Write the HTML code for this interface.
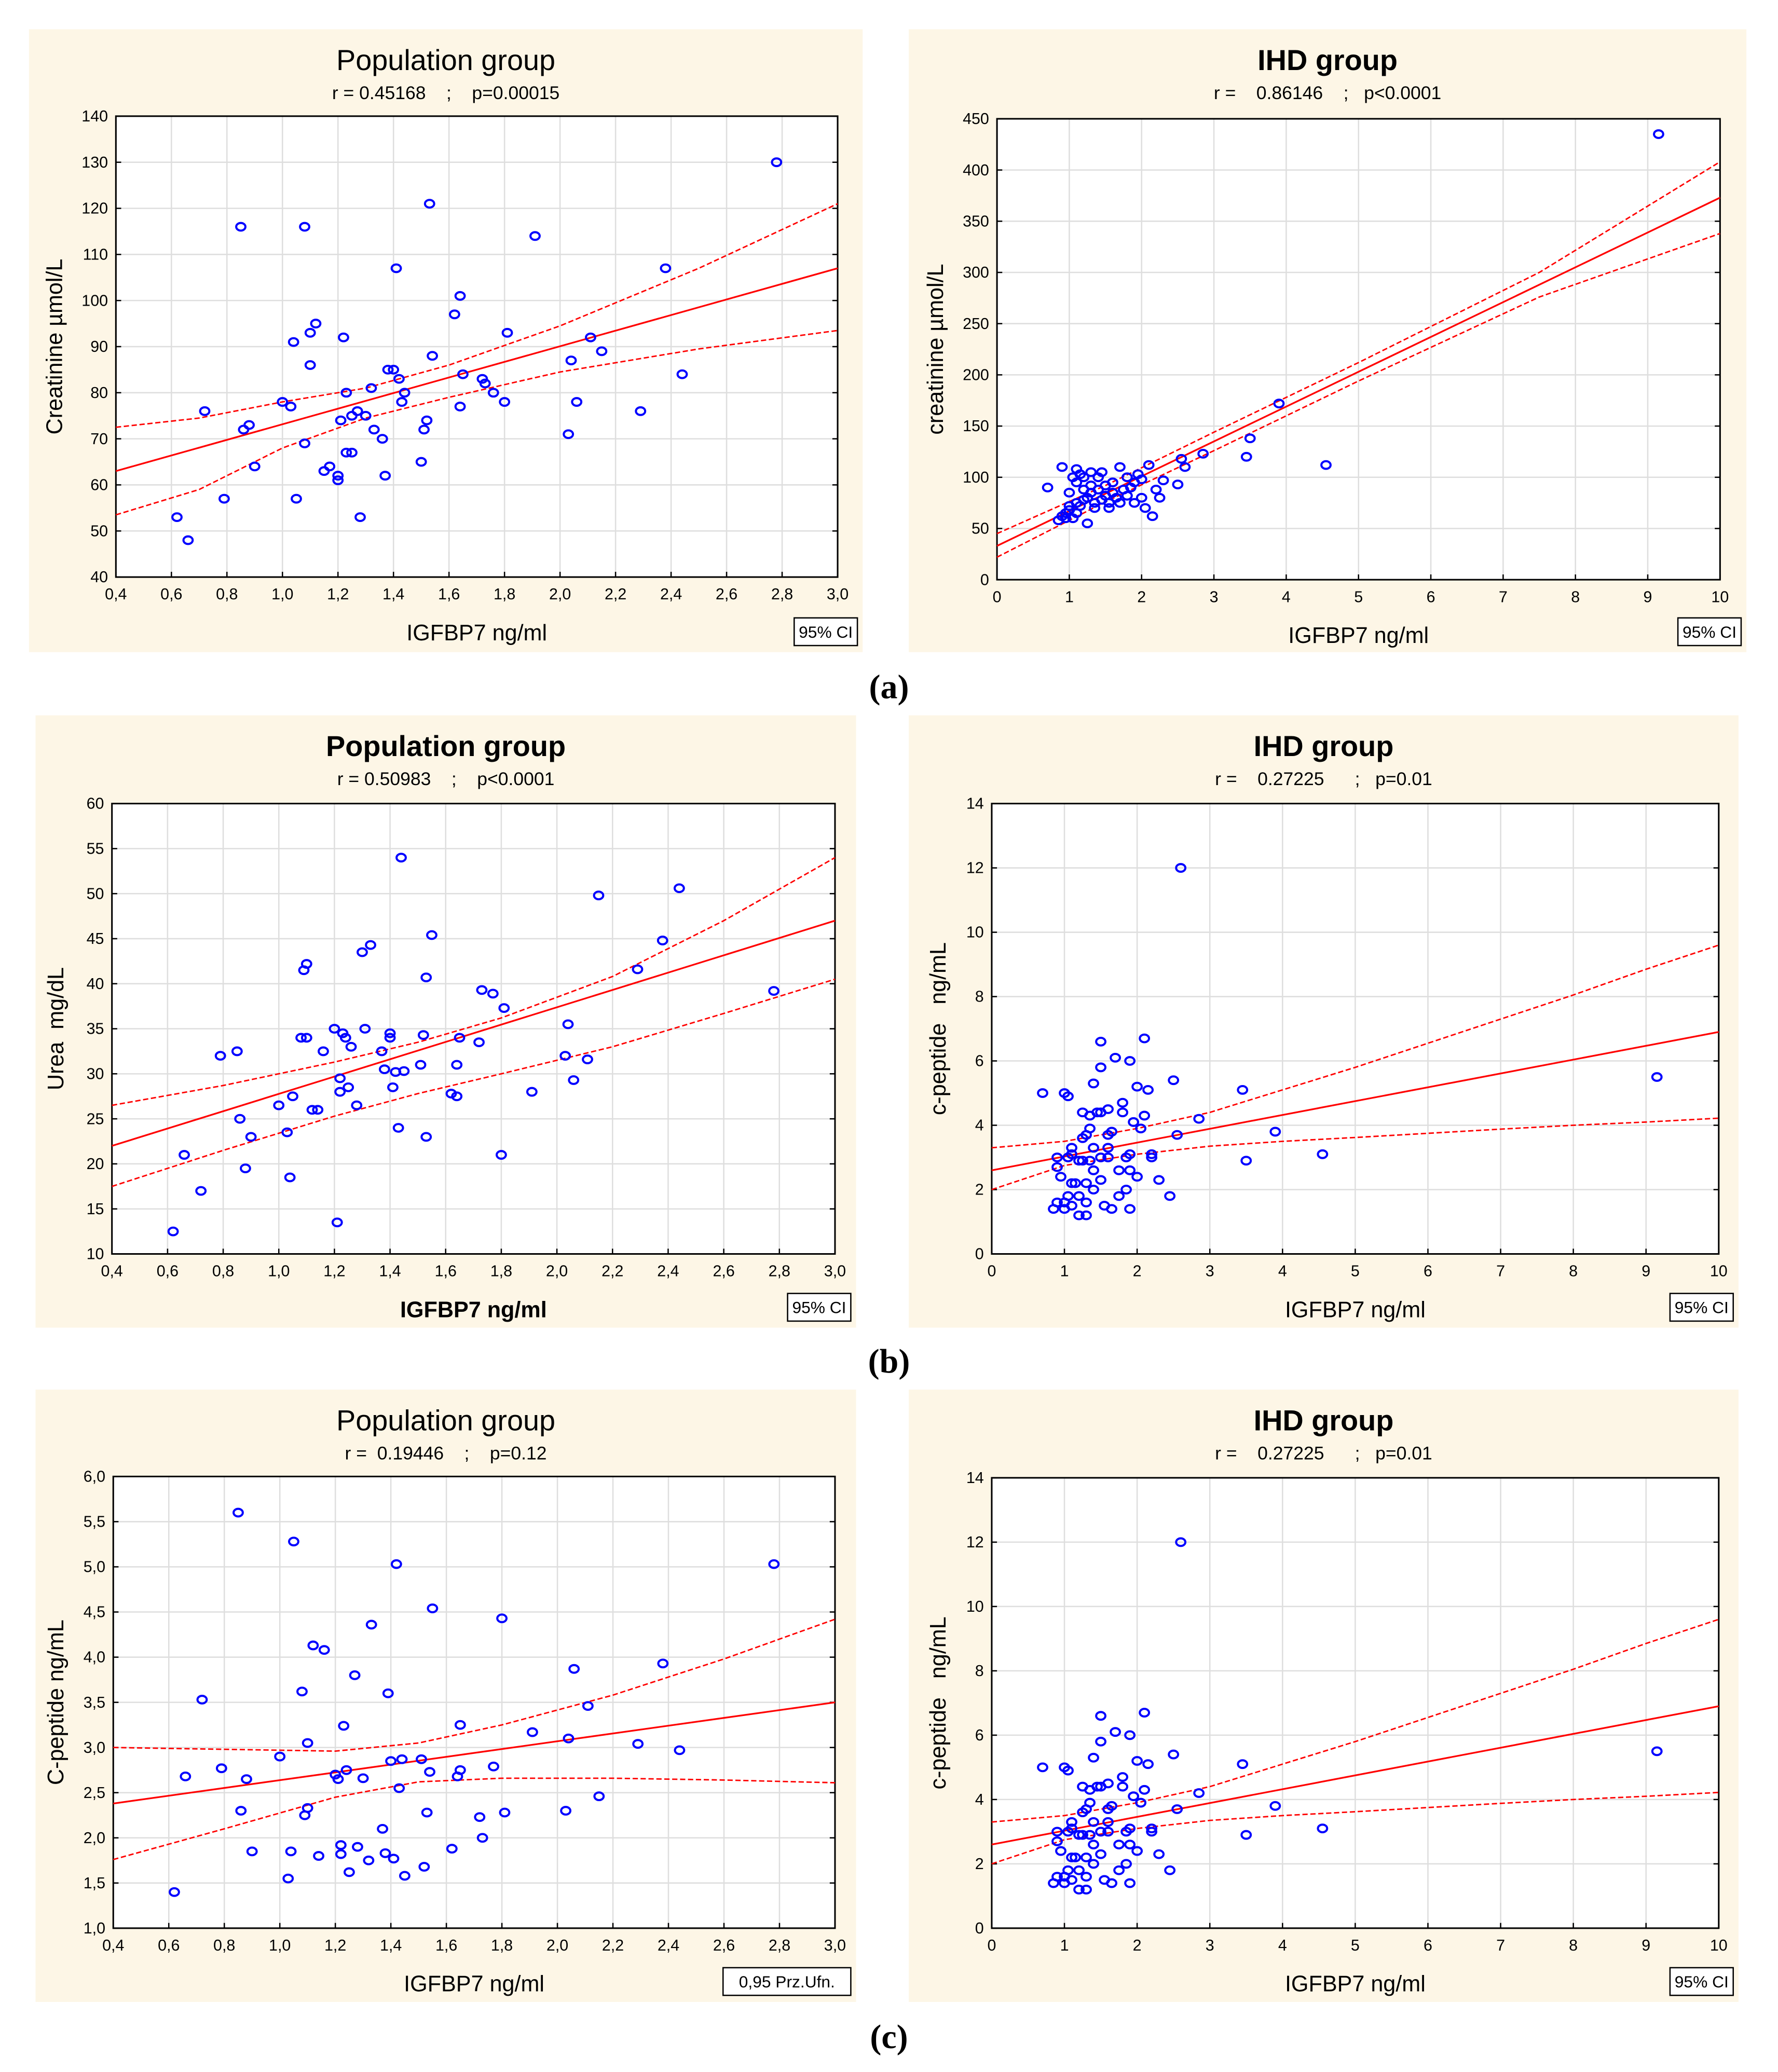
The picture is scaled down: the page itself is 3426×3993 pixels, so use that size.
<!DOCTYPE html>
<html><head><meta charset="utf-8"><style>
html,body{margin:0;padding:0;background:#fff;}
svg{display:block;}
text{font-family:"Liberation Sans",sans-serif;fill:#000;white-space:pre;}
</style></head><body>
<svg id="fig" width="3426" height="3993" viewBox="0 0 1350 1573" xmlns="http://www.w3.org/2000/svg"></svg>
<script>
// ---- chart data ----
const aLeftX=[0.62,0.66,0.72,0.79,0.85,0.86,0.88,0.9,1.0,1.03,1.04,1.05,1.08,1.08,1.1,1.1,1.12,1.15,1.17,1.2,1.2,1.21,1.22,1.23,1.23,1.25,1.25,1.27,1.28,1.3,1.32,1.33,1.36,1.37,1.38,1.4,1.41,1.42,1.43,1.44,1.5,1.51,1.52,1.53,1.54,1.62,1.64,1.64,1.65,1.72,1.73,1.76,1.8,1.81,1.91,2.03,2.04,2.06,2.11,2.15,2.29,2.38,2.44,2.78];
const aLeftY=[53,48,76,57,116,72,73,64,78,77,91,57,116,69,86,93,95,63,64,61,62,74,92,67,80,75,67,76,53,75,81,72,70,62,85,85,107,83,78,80,65,72,74,121,88,97,101,77,84,83,82,80,78,93,114,71,87,78,92,89,76,107,84,130];
const aLeftFit=[63,107];
const aLeftCiX=[0.4,0.7,1.0,1.3,1.6,2.0,2.5,3.0];
const aLeftCiUp=[72.5,74.5,78,81,86,94.5,107,121];
const aLeftCiLo=[53.5,59,68,74.5,79,84.5,89.5,93.5];

const aRightX=[0.7,0.85,0.9,0.9,0.95,1.0,1.0,1.05,1.05,1.1,1.1,1.1,1.15,1.15,1.2,1.2,1.25,1.25,1.3,1.3,1.3,1.35,1.35,1.4,1.4,1.45,1.45,1.5,1.5,1.55,1.55,1.6,1.6,1.65,1.7,1.7,1.75,1.8,1.8,1.85,1.9,1.9,1.95,2.0,2.0,2.05,2.1,2.15,2.2,2.25,2.3,2.5,2.55,2.6,2.85,3.45,3.5,3.9,4.55,9.15,1.0,1.1,1.2,0.95];
const aRightY=[90,58,62,110,65,68,85,60,100,108,95,75,72,103,88,100,55,80,105,85,92,75,70,88,100,78,105,82,92,75,70,85,95,80,110,75,88,100,82,90,95,75,103,98,80,70,112,62,88,80,97,93,118,110,123,120,138,172,112,435,72,65,78,60];
const aRightFit=[33,373];
const aRightCiX=[0,1.5,3,5,7.5,10];
const aRightCiUp=[45,92,144,212,300,408];
const aRightCiLo=[22,76,126,194,276,338];

const bLeftX=[0.62,0.66,0.72,0.79,0.85,0.86,0.88,0.9,1.0,1.03,1.04,1.05,1.08,1.09,1.1,1.1,1.12,1.14,1.16,1.2,1.21,1.22,1.22,1.23,1.24,1.25,1.26,1.28,1.3,1.31,1.33,1.37,1.38,1.4,1.4,1.41,1.42,1.43,1.44,1.45,1.51,1.52,1.53,1.53,1.55,1.62,1.64,1.64,1.65,1.72,1.73,1.77,1.8,1.81,1.91,2.03,2.04,2.06,2.11,2.15,2.29,2.38,2.44,2.78];
const bLeftY=[12.5,21,17,32,32.5,25,19.5,23,26.5,23.5,18.5,27.5,34,41.5,42.2,34,26,26,32.5,35,13.5,29.5,28,34.5,34,28.5,33,26.5,43.5,35,44.3,32.5,30.5,34.5,34,28.5,30.2,24,54,30.3,31,34.3,23,40.7,45.4,27.8,27.5,31,34,33.5,39.3,38.9,21,37.3,28,32,35.5,29.3,31.6,49.8,41.6,44.8,50.6,39.2];
const bLeftFit=[22,47];
const bLeftCiX=[0.4,0.8,1.2,1.5,1.8,2.2,2.6,3.0];
const bLeftCiUp=[26.5,28.7,31.3,33.5,36.2,40.8,47,54];
const bLeftCiLo=[17.5,21.5,25.3,27.8,30,33,36.7,40.5];

const cpepX=[0.7,0.9,0.9,0.85,0.9,0.95,1.0,1.0,1.0,1.05,1.05,1.05,1.1,1.1,1.1,1.1,1.15,1.2,1.2,1.2,1.25,1.25,1.25,1.3,1.3,1.3,1.3,1.35,1.35,1.35,1.4,1.4,1.4,1.4,1.45,1.5,1.5,1.5,1.5,1.5,1.55,1.6,1.6,1.6,1.6,1.65,1.65,1.7,1.75,1.75,1.8,1.8,1.85,1.85,1.9,1.9,1.9,1.9,1.95,2.0,2.0,2.05,2.1,2.1,2.15,2.2,2.2,2.3,2.45,2.5,2.55,2.6,2.85,3.45,3.5,3.9,4.55,9.15];
const cpepY=[5.0,3.0,2.7,1.4,1.6,2.4,5.0,1.4,1.6,4.9,3.0,1.8,3.1,3.3,2.2,1.5,2.2,2.9,1.8,1.2,4.4,3.6,2.9,3.7,2.2,1.6,1.2,3.9,2.9,4.3,5.3,3.3,2.6,2.0,4.4,6.6,5.8,4.4,3.0,2.3,1.5,3.7,3.3,3.0,4.5,3.8,1.4,6.1,2.6,1.8,4.7,4.4,2.0,3.0,6.0,3.1,2.6,1.4,4.1,5.2,2.4,3.9,6.7,4.3,5.1,3.1,3.0,2.3,1.8,5.4,3.7,12.0,4.2,5.1,2.9,3.8,3.1,5.5];
const cpepFit=[2.6,6.9];
const cpepCiX=[0,1,2,3,4,5,6,7,8,9,10];
const cpepCiUp=[3.3,3.5,3.9,4.4,5.1,5.8,6.55,7.3,8.05,8.85,9.6];
const cpepCiLo=[2.0,2.75,3.1,3.35,3.5,3.62,3.75,3.88,4.0,4.1,4.22];

const cLeftX=[0.62,0.66,0.72,0.79,0.85,0.86,0.88,0.9,1.0,1.03,1.04,1.05,1.08,1.09,1.1,1.1,1.12,1.14,1.16,1.2,1.21,1.22,1.22,1.23,1.24,1.25,1.27,1.28,1.3,1.32,1.33,1.37,1.38,1.39,1.4,1.41,1.42,1.43,1.44,1.45,1.51,1.52,1.53,1.54,1.55,1.62,1.64,1.65,1.65,1.72,1.73,1.77,1.8,1.81,1.91,2.03,2.04,2.06,2.11,2.15,2.29,2.38,2.44,2.78];
const cLeftY=[1.4,2.68,3.53,2.77,5.6,2.3,2.65,1.85,2.9,1.55,1.85,5.28,3.62,2.25,3.05,2.33,4.13,1.8,4.08,2.7,2.65,1.92,1.82,3.24,2.75,1.62,3.8,1.9,2.66,1.75,4.36,2.1,1.83,3.6,2.85,1.77,5.03,2.55,2.87,1.58,2.87,1.68,2.28,2.73,4.54,1.88,2.68,3.25,2.75,2.23,2.0,2.79,4.43,2.28,3.17,2.3,3.1,3.87,3.46,2.46,3.04,3.93,2.97,5.03];
const cLeftFit=[2.38,3.5];
const cLeftCiX=[0.4,0.8,1.2,1.5,1.8,2.2,2.6,3.0];
const cLeftCiUp=[3.0,2.98,2.96,3.05,3.25,3.58,3.98,4.42];
const cLeftCiLo=[1.76,2.1,2.45,2.62,2.66,2.66,2.64,2.61];

const xTicksPop=[0.4,0.6,0.8,1.0,1.2,1.4,1.6,1.8,2.0,2.2,2.4,2.6,2.8,3.0];
const xTickLabelsPop=["0,4","0,6","0,8","1,0","1,2","1,4","1,6","1,8","2,0","2,2","2,4","2,6","2,8","3,0"];
const xTicksIhd=[0,1,2,3,4,5,6,7,8,9,10];
const yTicksA=[40,50,60,70,80,90,100,110,120,130,140];
const yTicksAR=[0,50,100,150,200,250,300,350,400,450];
const yTicksB=[10,15,20,25,30,35,40,45,50,55,60];
const yTicksCp=[0,2,4,6,8,10,12,14];
const yTicksC=[1.0,1.5,2.0,2.5,3.0,3.5,4.0,4.5,5.0,5.5,6.0];
const yTickLabelsC=["1,0","1,5","2,0","2,5","3,0","3,5","4,0","4,5","5,0","5,5","6,0"];

const NS="http://www.w3.org/2000/svg";
const fig=document.getElementById('fig');
function mk(tag,attrs,parent){const e=document.createElementNS(NS,tag);for(const k in attrs)e.setAttribute(k,attrs[k]);(parent||fig).appendChild(e);return e;}

function chart(c){
  const g=mk('g',{});
  
  
  const bg=mk('rect',{x:c.bg[0],y:c.bg[1],width:c.bg[2],height:c.bg[3],fill:'#fdf6e6'},g);
  
  
  const [L,T,R,B]=c.plot;
  const sx=v=>L+(v-c.xr[0])/(c.xr[1]-c.xr[0])*(R-L);
  const sy=v=>B-(v-c.yr[0])/(c.yr[1]-c.yr[0])*(B-T);
  mk('rect',{x:L,y:T,width:R-L,height:B-T,fill:'#fff'},g);
  c.xt.forEach((v,i)=>{
    mk('line',{x1:sx(v),x2:sx(v),y1:T,y2:B,stroke:'#dedede','stroke-width':1},g);
    mk('line',{x1:sx(v),x2:sx(v),y1:B,y2:B-4,stroke:'#000','stroke-width':1},g);
    const t=mk('text',{x:sx(v),y:B+17,'text-anchor':'middle','font-size':12},g);
    t.textContent=c.xl[i];
    
    
  });
  c.yt.forEach((v,i)=>{
    mk('line',{x1:L,x2:R,y1:sy(v),y2:sy(v),stroke:'#dedede','stroke-width':1},g);
    mk('line',{x1:L,x2:L+4,y1:sy(v),y2:sy(v),stroke:'#000','stroke-width':1},g);
    mk('line',{x1:R,x2:R-4,y1:sy(v),y2:sy(v),stroke:'#000','stroke-width':1},g);
    const t=mk('text',{x:L-6,y:sy(v)+4,'text-anchor':'end','font-size':12},g);
    t.textContent=c.yl[i];
    
    
  });
  mk('rect',{x:L,y:T,width:R-L,height:B-T,fill:'none',stroke:'#000','stroke-width':1.2},g);
  const ci=(ys,nm)=>{
    const p=mk('polyline',{points:c.cix.map((x,i)=>sx(x)+','+sy(ys[i])).join(' '),fill:'none',stroke:'#f00','stroke-width':1.1,'stroke-dasharray':'4,2'},g);
    
    
  };
  ci(c.ciu,'ci-upper');ci(c.cil,'ci-lower');
  const fl=mk('line',{x1:sx(c.xr[0]),y1:sy(c.fit[0]),x2:sx(c.xr[1]),y2:sy(c.fit[1]),stroke:'#f00','stroke-width':1.3},g);
  
  
  c.px.forEach((x,i)=>{
    const e=mk('ellipse',{cx:sx(x),cy:sy(c.py[i]),rx:3.5,ry:2.9,fill:'none',stroke:'#0000ff','stroke-width':1.6},g);
    
    
  });
  const mid=(c.bg[0]*2+c.bg[2])/2;
  const tt=mk('text',{x:mid,y:c.bg[1]+31,'text-anchor':'middle','font-size':22,'font-weight':c.titleBold?'bold':'normal'},g);
  tt.textContent=c.title;
  
  
  const st=mk('text',{x:mid,y:c.bg[1]+53,'text-anchor':'middle','font-size':14},g);
  st.textContent=c.sub;
  
  
  const xl=mk('text',{x:(L+R)/2,y:B+48,'text-anchor':'middle','font-size':17,'font-weight':c.xBold?'bold':'normal'},g);
  xl.textContent=c.xlabel;
  
  
  const yl=mk('text',{x:0,y:0,'text-anchor':'middle','font-size':17,transform:`translate(${c.ylx},${(T+B)/2}) rotate(-90)`},g);
  yl.textContent=c.ylabel;
  
  
  const bw=c.ci.length*7+6;
  const bx=c.bg[0]+c.bg[2]-bw-4, by=c.bg[1]+c.bg[3]-26;
  const lb=mk('rect',{x:bx,y:by,width:bw,height:21,fill:'#fff',stroke:'#000','stroke-width':1},g);
  
  
  const lt=mk('text',{x:bx+bw/2,y:by+15,'text-anchor':'middle','font-size':12.5},g);
  lt.textContent=c.ci;
  
  
}
const fmt=a=>a.map(String);
chart({name:'chart-a-population',bg:[22,22,633,473],plot:[88,88,636,438],xr:[0.4,3.0],yr:[40,140],xt:xTicksPop,xl:xTickLabelsPop,yt:yTicksA,yl:fmt(yTicksA),px:aLeftX,py:aLeftY,fit:aLeftFit,cix:aLeftCiX,ciu:aLeftCiUp,cil:aLeftCiLo,title:'Population group',sub:'r = 0.45168    ;    p=0.00015',xlabel:'IGFBP7 ng/ml',ylabel:'Creatinine µmol/L',ylx:47,ci:'95% CI'});
chart({name:'chart-a-ihd',bg:[690,22,636,473],plot:[757,90,1306,440],xr:[0,10],yr:[0,450],xt:xTicksIhd,xl:fmt(xTicksIhd),yt:yTicksAR,yl:fmt(yTicksAR),px:aRightX,py:aRightY,fit:aRightFit,cix:aRightCiX,ciu:aRightCiUp,cil:aRightCiLo,title:'IHD group',titleBold:true,sub:'r =    0.86146    ;   p<0.0001',xlabel:'IGFBP7 ng/ml',ylabel:'creatinine µmol/L',ylx:716,ci:'95% CI'});
chart({name:'chart-b-population',bg:[27,543,623,465],plot:[85,610,634,952],xr:[0.4,3.0],yr:[10,60],xt:xTicksPop,xl:xTickLabelsPop,yt:yTicksB,yl:fmt(yTicksB),px:bLeftX,py:bLeftY,fit:bLeftFit,cix:bLeftCiX,ciu:bLeftCiUp,cil:bLeftCiLo,title:'Population group',titleBold:true,xBold:true,sub:'r = 0.50983    ;    p<0.0001',xlabel:'IGFBP7 ng/ml',ylabel:'Urea  mg/dL',ylx:48,ci:'95% CI'});
chart({name:'chart-b-ihd',bg:[690,543,630,465],plot:[753,610,1305,952],xr:[0,10],yr:[0,14],xt:xTicksIhd,xl:fmt(xTicksIhd),yt:yTicksCp,yl:fmt(yTicksCp),px:cpepX,py:cpepY,fit:cpepFit,cix:cpepCiX,ciu:cpepCiUp,cil:cpepCiLo,title:'IHD group',titleBold:true,sub:'r =    0.27225      ;   p=0.01',xlabel:'IGFBP7 ng/ml',ylabel:'c-peptide   ng/mL',ylx:718,ci:'95% CI'});
chart({name:'chart-c-population',bg:[27,1055,623,465],plot:[86,1121,634,1464],xr:[0.4,3.0],yr:[1,6],xt:xTicksPop,xl:xTickLabelsPop,yt:yTicksC,yl:yTickLabelsC,px:cLeftX,py:cLeftY,fit:cLeftFit,cix:cLeftCiX,ciu:cLeftCiUp,cil:cLeftCiLo,title:'Population group',sub:'r =  0.19446    ;    p=0.12',xlabel:'IGFBP7 ng/ml',ylabel:'C-peptide ng/mL',ylx:48,ci:'0,95 Prz.Ufn.'});
chart({name:'chart-c-ihd',bg:[690,1055,630,465],plot:[753,1122,1305,1464],xr:[0,10],yr:[0,14],xt:xTicksIhd,xl:fmt(xTicksIhd),yt:yTicksCp,yl:fmt(yTicksCp),px:cpepX,py:cpepY,fit:cpepFit,cix:cpepCiX,ciu:cpepCiUp,cil:cpepCiLo,title:'IHD group',titleBold:true,sub:'r =    0.27225      ;   p=0.01',xlabel:'IGFBP7 ng/ml',ylabel:'c-peptide   ng/mL',ylx:718,ci:'95% CI'});
[['(a)',522],['(b)',1034],['(c)',1547]].forEach(([s,y])=>{
  const t=mk('text',{x:675,y:y+8,'text-anchor':'middle','font-size':26,'font-weight':'bold',style:'font-family:"Liberation Serif",serif'});
  t.textContent=s;
  
  
});
</script>
</body></html>
